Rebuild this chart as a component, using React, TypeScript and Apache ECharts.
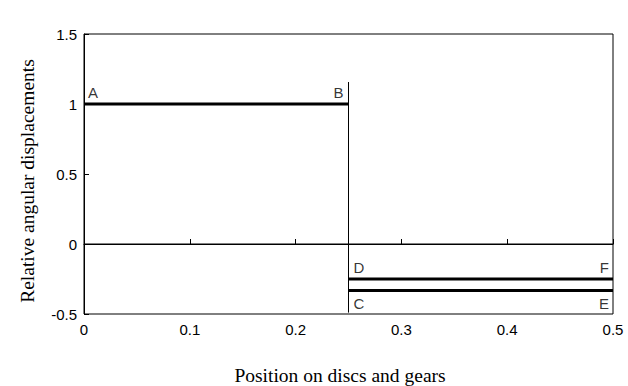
import React, { useEffect, useRef } from "react";
import * as echarts from "echarts";

const xTicks = [0, 0.1, 0.2, 0.3, 0.4, 0.5];
const yTicks = [-0.5, 0, 0.5, 1, 1.5];
const lineAB: [number, number][] = [[0, 1], [0.25, 1]];
const lineDF: [number, number][] = [[0.25, -0.25], [0.5, -0.25]];
const lineCE: [number, number][] = [[0.25, -0.333], [0.5, -0.333]];
const jumpLine: [number, number][] = [[0.25, 1.157], [0.25, -0.49]];
const zeroLine: [number, number][] = [[0, 0], [0.5, 0]];
const pointNames = ["A", "B", "D", "F", "C", "E"];
const pointCoords: [number, number][] = [[0, 1], [0.25, 1], [0.25, -0.25], [0.5, -0.25], [0.25, -0.333], [0.5, -0.333]];
const xTitle = "Position on discs and gears";
const yTitle = "Relative angular displacements";

export default function App() {
  const ref = useRef<HTMLDivElement>(null);
  useEffect(() => {
    document.body.style.margin = "0";
    const chart = echarts.init(ref.current!, null, { renderer: "svg" });
    const labelPos: Record<string, any> = {
      A: { align: "left", verticalAlign: "bottom", offset: [4, -4] },
      B: { align: "right", verticalAlign: "bottom", offset: [-5, -4] },
      D: { align: "left", verticalAlign: "bottom", offset: [5, -4] },
      F: { align: "right", verticalAlign: "bottom", offset: [-4, -4] },
      C: { align: "left", verticalAlign: "top", offset: [5, 5] },
      E: { align: "right", verticalAlign: "top", offset: [-4, 5] },
    };
    const lineSeries = (data: [number, number][], width: number) => ({
      type: "line",
      data,
      symbol: "none",
      lineStyle: { color: "#000", width },
      silent: true,
    });
    chart.setOption({
      animation: false,
      grid: { left: 84, right: 15, top: 34, bottom: 72, show: true, borderColor: "#000", borderWidth: 1, backgroundColor: "transparent" },
      xAxis: {
        type: "value",
        min: xTicks[0],
        max: xTicks[xTicks.length - 1],
        interval: 0.1,
        axisLine: { show: true, lineStyle: { color: "#000", width: 1 } },
        axisTick: { show: true, inside: true, length: 5, lineStyle: { color: "#000" } },
        splitLine: { show: false },
        axisLabel: { color: "#000", fontFamily: "Liberation Sans", fontSize: 15, margin: 8 },
      },
      yAxis: {
        type: "value",
        min: yTicks[0],
        max: yTicks[yTicks.length - 1],
        interval: 0.5,
        axisLine: { show: true, lineStyle: { color: "#000", width: 1 } },
        axisTick: { show: true, inside: true, length: 5, lineStyle: { color: "#000" } },
        splitLine: { show: false },
        axisLabel: { color: "#000", fontFamily: "Liberation Sans", fontSize: 15, margin: 7 },
      },
      series: [
        lineSeries(zeroLine, 1),
        lineSeries(jumpLine, 1),
        lineSeries(lineAB, 3),
        lineSeries(lineDF, 3),
        lineSeries(lineCE, 3),
        {
          type: "scatter",
          symbolSize: 0,
          silent: true,
          data: pointNames.map((n, i) => ({
            value: pointCoords[i],
            name: n,
            label: {
              show: true,
              formatter: n,
              position: "inside",
              color: "#000",
              fontFamily: "Liberation Sans",
              fontSize: 15,
              ...labelPos[n],
            },
          })),
        },
      ],
      graphic: [
        {
          type: "text",
          x: 340,
          y: 375,
          style: { text: xTitle, fontFamily: "Liberation Serif", fontSize: 19.5, fill: "#000", align: "center", verticalAlign: "middle" },
        },
        {
          type: "text",
          x: 27,
          y: 181,
          rotation: Math.PI / 2,
          style: { text: yTitle, fontFamily: "Liberation Serif", fontSize: 19.5, fill: "#000", align: "center", verticalAlign: "middle" },
        },
      ],
    });
    return () => chart.dispose();
  }, []);
  return <div ref={ref} style={{ width: 628, height: 386 }} />;
}
